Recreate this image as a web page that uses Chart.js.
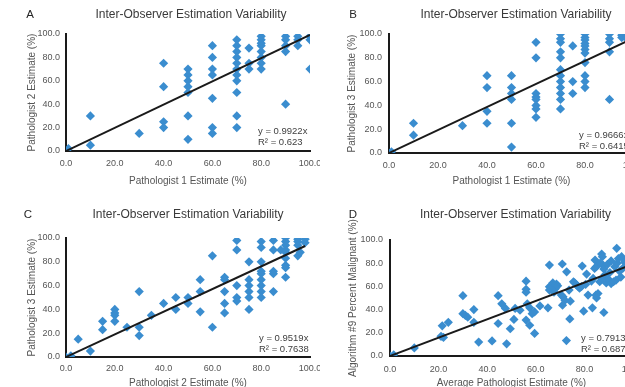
<!DOCTYPE html>
<html>
<head>
<meta charset="utf-8">
<script src="https://cdn.jsdelivr.net/npm/chart.js@4.4.1/dist/chart.umd.min.js"></script>
<style>
  html, body { margin: 0; padding: 0; background: #fff; }
  body { width: 625px; height: 387px; overflow: hidden; position: relative; }
  .panel { position: absolute; }
</style>
</head>
<body>
<div class="panel" id="pA" style="left:0;top:0;width:320px;height:195px"><canvas id="chartA"></canvas></div>
<div class="panel" id="pB" style="left:320px;top:0;width:330px;height:195px"><canvas id="chartB"></canvas></div>
<div class="panel" id="pC" style="left:0;top:195px;width:320px;height:200px"><canvas id="chartC"></canvas></div>
<div class="panel" id="pD" style="left:320px;top:195px;width:330px;height:200px"><canvas id="chartD"></canvas></div>
<script>
// valores (estimativas em %)
const aX = [0, 1, 10, 10, 30, 40, 40, 40, 40,
  50, 50, 50, 50, 50, 50, 50,
  60, 60, 60, 60, 60, 60, 60,
  70, 70, 70, 70, 70, 70, 70, 70, 70, 70, 70,
  75, 75, 75,
  80, 80, 80, 80, 80, 80, 80, 80,
  90, 90, 90, 90, 90,
  95, 95, 95,
  100, 100, 100];
const aY = [0, 2, 30, 5, 15, 75, 55, 25, 20,
  70, 65, 60, 55, 50, 30, 10,
  90, 80, 70, 65, 45, 20, 15,
  95, 90, 85, 80, 75, 70, 65, 60, 50, 30, 20,
  88, 75, 70,
  98, 95, 92, 90, 85, 80, 75, 70,
  98, 95, 90, 85, 40,
  98, 95, 90,
  98, 95, 70];

const bX = [0, 1, 10, 10, 30, 40, 40, 40, 40,
  50, 50, 50, 50, 50, 50,
  60, 60, 60, 60, 60, 60, 60, 60,
  70, 70, 70, 70, 70, 70, 70, 70, 70, 70, 70, 70,
  75, 75, 75,
  80, 80, 80, 80, 80, 80, 80, 80, 80, 80, 80,
  90, 90, 90, 90, 90,
  95, 95, 97, 97];
const bY = [0, 1, 25, 15, 23, 65, 55, 35, 25,
  65, 55, 50, 45, 25, 5,
  93, 80, 50, 47, 45, 40, 37, 30,
  100, 96, 93, 85, 80, 70, 65, 60, 55, 50, 45, 37,
  90, 60, 50,
  100, 97, 95, 92, 90, 87, 84, 76, 65, 60, 55,
  100, 96, 93, 85, 45,
  99, 97, 99, 96];

const cX = [0, 2, 5, 10, 15, 15, 20, 20, 20, 20, 25, 30, 30, 30, 35, 40, 45, 45, 50, 50,
  55, 55, 55, 60, 60, 65, 65, 65, 65, 65, 70, 70, 70, 70, 70,
  75, 75, 75, 75, 75, 75, 80, 80, 80, 80, 80, 80, 80, 80, 80,
  85, 85, 85, 85, 85, 88, 90, 90, 90, 90, 90, 90, 90, 90, 90,
  95, 95, 95, 95, 96, 98, 98];
const cY = [0, 1, 15, 5, 30, 23, 40, 37, 35, 30, 25, 55, 25, 18, 35, 45, 50, 40, 50, 45,
  65, 55, 38, 85, 25, 67, 65, 55, 45, 37, 98, 90, 60, 50, 47,
  80, 65, 60, 55, 50, 40, 97, 92, 80, 72, 70, 65, 60, 55, 50,
  98, 90, 72, 70, 55, 90, 100, 97, 94, 90, 88, 83, 77, 75, 67,
  99, 97, 94, 85, 88, 99, 96];

const dX = [0, 1.5, 10, 21, 22, 21.5, 24, 30, 30, 31, 32, 34.5, 34.5, 36.5, 42, 44.5, 46, 44.5,
  47.5, 48, 49.5, 51, 51.5, 53.5, 56, 56, 56, 56.5, 57.5, 56, 57.5, 59.5, 58.5, 59.5, 61.7,
  65, 65.6, 65.6, 65.6, 66.5, 67, 68, 67.5, 68.5, 69, 70.5, 71.2, 72, 70.9, 71, 72.7, 72.6,
  73.7, 74.2, 74, 75.5, 76, 76.7, 77.4, 78, 78.8, 79.1, 79.7, 80.9, 80.5, 81.5, 82.9, 83.6,
  83.3, 84.4, 84.2, 84.9, 84.7, 85.6, 85, 87.1, 87.4, 87.7, 86.5, 88, 88.5, 88, 86.3, 87.4,
  89, 90, 90.5, 89.5, 91, 91, 92, 93, 93.3, 92.5, 93.5, 94, 95.3, 94.5, 95, 96, 96.5];
const dY = [0, 1, 7, 17, 16, 26, 29, 52, 36.5, 35, 33.5, 40, 29, 12, 13, 52, 45, 28,
  41, 10.5, 23.5, 31.5, 41, 39.5, 64.5, 57.5, 55, 45, 41.5, 31, 26.5, 19.5, 36.5, 38, 43.2,
  41.5, 78.4, 59.6, 56.8, 61, 63, 58, 55, 62, 60.5, 52.5, 51, 48, 79.3, 43.8, 72.6, 13.3,
  56.8, 47.3, 32, 64, 63, 61.5, 60, 58.5, 59.9, 77.5, 38.6, 70.6, 61.7, 52.5, 64.6, 66.9,
  41.5, 82.7, 75.5, 77, 52.4, 53.9, 50, 87.9, 85.6, 78.4, 80, 75, 70, 37.5, 64, 66.9,
  63, 66, 72, 79, 82, 62.4, 64, 65.4, 92.8, 77, 80, 84, 85.6, 73, 68, 76, 81];

// linhas de tendência (y = a·x) e R² do Excel
const slopes = [0.9922, 0.9666, 0.9519, 0.7913];
const r2Labels = ['0.623', '0.6415', '0.7638', '0.6877'];
const trendEndX = [100, 100, 98, 100];
const xTicks = [0, 20, 40, 60, 80, 100];
const panelLetters = ['A', 'B', 'C', 'D'];
const chartTitle = 'Inter-Observer Estimation Variability';
const xTitles = ['Pathologist 1 Estimate (%)', 'Pathologist 1 Estimate (%)', 'Pathologist 2 Estimate (%)', 'Average Pathologist Estimate (%)'];
const yTitles = ['Pathologist 2 Estimate (%)', 'Pathologist 3 Estimate (%)', 'Pathologist 3 Estimate (%)', 'Algorithm #9 Percent Malignant (%)'];

const FONT = '"Liberation Sans", Arial, sans-serif';
const BLUE = '#3a8dcf';

// layout de cada painel (px relativos ao canvas)
const layouts = [
  { padTop: 34, padRight: 10, yW: 66, xH: 44, xTickPad: 7, yTickPad: 6, xTitlePad: 8, yTitlePad: 26,
    letter: [30, 15], title: [191, 14.5], eq: [258, 131] },
  { padTop: 34, padRight: 16, yW: 69, xH: 42, xTickPad: 7.5, yTickPad: 7, xTitlePad: 8, yTitlePad: 26,
    letter: [33, 15], title: [196, 14.5], eq: [259, 135] },
  { padTop: 43, padRight: 10, yW: 66, xH: 38, xTickPad: 6.5, yTickPad: 6, xTitlePad: 6, yTitlePad: 26,
    letter: [28, 20], title: [188, 19.5], eq: [259, 143] },
  { padTop: 45, padRight: 17, yW: 70, xH: 39, xTickPad: 8, yTickPad: 7, xTitlePad: 6, yTitlePad: 27,
    letter: [33, 20], title: [195.5, 20], eq: [261, 143] }
];

const panelText = {
  id: 'panelText',
  afterDraw(chart, args, o) {
    const ctx = chart.ctx;
    ctx.save();
    ctx.textBaseline = 'middle';
    ctx.textAlign = 'center';
    ctx.fillStyle = '#262626';
    ctx.font = '11.5px ' + FONT;
    ctx.fillText(o.letter, o.letterPos[0], o.letterPos[1]);
    ctx.fillStyle = '#3a3a3a';
    ctx.font = '12px ' + FONT;
    ctx.fillText(o.title, o.titlePos[0], o.titlePos[1]);
    ctx.textAlign = 'left';
    ctx.fillStyle = '#404040';
    ctx.font = '9.5px ' + FONT;
    ctx.fillText('y = ' + o.slope + 'x', o.eqPos[0], o.eqPos[1]);
    ctx.fillText('R\u00b2 = ' + o.r2, o.eqPos[0], o.eqPos[1] + 11);
    ctx.restore();
  }
};

function makePanel(canvasId, i, xs, ys) {
  const L = layouts[i];
  const points = xs.map((x, k) => ({ x: x, y: ys[k] }));
  const endX = trendEndX[i];
  const trend = [{ x: 0, y: 0 }, { x: endX, y: slopes[i] * endX }];

  return new Chart(document.getElementById(canvasId), {
    type: 'scatter',
    data: {
      datasets: [{
        type: 'line',
        data: trend,
        borderColor: '#1a1a1a',
        borderWidth: 2,
        pointRadius: 0,
        order: 0
      }, {
        data: points,
        pointStyle: 'rectRot',
        pointRadius: 4.6,
        pointBorderWidth: 0,
        backgroundColor: BLUE,
        borderColor: BLUE,
        order: 1
      }]
    },
    options: {
      responsive: true,
      maintainAspectRatio: false,
      animation: false,
      events: [],
      layout: { padding: { left: 0, top: L.padTop, right: L.padRight, bottom: 0 } },
      plugins: {
        legend: { display: false },
        tooltip: { enabled: false },
        panelText: {
          letter: panelLetters[i], letterPos: L.letter,
          title: chartTitle, titlePos: L.title,
          slope: slopes[i], r2: r2Labels[i], eqPos: L.eq
        }
      },
      scales: {
        x: {
          type: 'linear', min: 0, max: 100,
          afterBuildTicks: s => { s.ticks = xTicks.map(v => ({ value: v })); },
          afterFit: s => { s.height = L.xH; s.paddingLeft = 0; s.paddingRight = 0; },
          grid: { display: false, drawTicks: false },
          border: { display: true, color: '#1a1a1a', width: 2 },
          ticks: { padding: L.xTickPad, color: '#555', font: { family: FONT, size: 9 },
            maxRotation: 0, autoSkip: false, callback: v => v.toFixed(1) },
          title: { display: true, text: xTitles[i], color: '#555',
            font: { family: FONT, size: 10 }, padding: { top: 0, bottom: L.xTitlePad } }
        },
        y: {
          type: 'linear', min: 0, max: 100,
          afterBuildTicks: s => { s.ticks = xTicks.map(v => ({ value: v })); },
          afterFit: s => { s.width = L.yW; s.paddingTop = 0; s.paddingBottom = 0; },
          grid: { display: false, drawTicks: false },
          border: { display: true, color: '#1a1a1a', width: 2 },
          ticks: { padding: L.yTickPad, color: '#555', font: { family: FONT, size: 9 },
            autoSkip: false, callback: v => v.toFixed(1) },
          title: { display: true, text: yTitles[i], color: '#555',
            font: { family: FONT, size: 10 }, padding: { top: L.yTitlePad, bottom: 0 } }
        }
      }
    },
    plugins: [panelText]
  });
}

makePanel('chartA', 0, aX, aY);
makePanel('chartB', 1, bX, bY);
makePanel('chartC', 2, cX, cY);
makePanel('chartD', 3, dX, dY);
</script>
</body>
</html>
